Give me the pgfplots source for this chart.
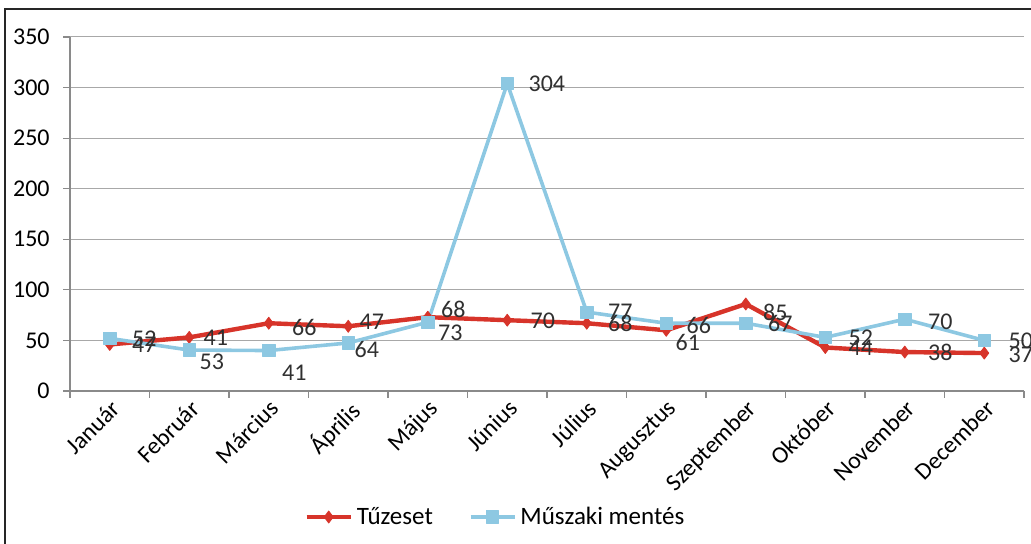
\documentclass[border=0pt]{standalone}
\usepackage{pgfplots}
\pgfplotsset{compat=1.18}
\usepackage{pgfplotstable}
\usepackage{fontspec}
\setmainfont{Carlito}
\definecolor{tred}{HTML}{D7342A}
\definecolor{mblue}{HTML}{8DC8E2}
\definecolor{gridc}{HTML}{A8A8A8}
\definecolor{axc}{HTML}{8A8A8A}
\definecolor{labc}{HTML}{303030}

% x y label dx(pt) dyup(pt)
\pgfplotstableread{
x y lab dx dy
0 46 47 11 0
1 53 41 7 0
2 67 66 11.5 -2
3 64 47 5.5 2
4 73 68 6.5 4
5 70 70 11.5 -0.5
6 67 68 10.5 0
7 60 61 4.5 -6
8 86 85 8.5 -4
9 43 44 11.5 0
10 38.5 38 11.5 0
11 37.5 37 12 -1
}\tuz
\pgfplotstableread{
x y lab dx dy
0 52 52 11 0
1 40.5 53 5 -6
2 40 41 6.5 -11
3 47.5 64 3 -3.5
4 68 73 5 -5.5
5 304 304 10.5 0
6 78 77 10.5 0
7 67 66 10 -1
8 67 67 11 0
9 53 52 11.5 0
10 71 70 11.5 -1.5
11 50 50 12 0
}\musz

\begin{document}
\begin{tikzpicture}
\useasboundingbox (-35pt,-76.5pt) rectangle (480.5pt,195.5pt);
\draw[line width=0.9pt, black!85] (-32.5pt,-80pt) -- (-32.5pt,191pt) -- (485pt,191pt);
\begin{axis}[
  at={(0pt,0pt)}, anchor=south west,
  scale only axis, width=477pt, height=177pt,
  xmin=-0.5, xmax=11.5, ymin=0, ymax=350,
  axis lines*=left,
  axis line style={axc, line width=0.6pt},
  tick align=outside,
  xtick={0,...,11},
  xticklabels={Január,Február,Március,Április,Május,Június,Július,Augusztus,Szeptember,Október,November,December},
  major x tick style={draw=none},
  minor xtick={-0.5,0.5,...,11.5},
  minor tick length=3.5pt,
  minor x tick style={axc, line width=0.6pt},
  ytick={0,50,...,350},
  major tick length=3.5pt,
  y tick style={axc, line width=0.6pt},
  ymajorgrids,
  major grid style={gridc, line width=0.5pt},
  /pgf/number format/assume math mode=true,
  tick label style={font=\fontsize{12}{14}\selectfont, text=black},
  yticklabel style={anchor=east, inner sep=0pt, xshift=-6.5pt},
  xticklabel style={rotate=45, anchor=north east, inner sep=0pt},
  legend style={at={(0.447,-0.356)}, anchor=center, draw=none, fill=none,
    font=\fontsize{12.5}{14}\selectfont, inner sep=0pt,
    /tikz/every even column/.append style={column sep=16pt}},
  legend columns=2,
  legend cell align=left,
  legend image code/.code={\draw[mark repeat=2,mark phase=2] plot coordinates {(0pt,0pt) (11pt,0pt) (22pt,0pt)};},
  every node near coord/.append style={font=\fontsize{12}{14}\selectfont, text=labc},
]
\addplot[tred, line width=2.2pt, line join=round, mark=diamond*, mark size=3pt,
  mark options={solid, fill=tred, line width=0.4pt},
  point meta=explicit symbolic, nodes near coords,
  visualization depends on={\thisrow{dx} \as \ldx},
  visualization depends on={\thisrow{dy} \as \ldy},
  nodes near coords style={anchor=west, inner sep=0pt, xshift=\ldx pt, yshift=\ldy pt}]
  table[x=x, y=y, meta=lab]{\tuz};
\addlegendentry{Tűzeset}
\addplot[mblue, line width=1.8pt, line join=round, mark=square*, mark size=3.1pt,
  mark options={solid, fill=mblue, line width=0.4pt},
  point meta=explicit symbolic, nodes near coords,
  visualization depends on={\thisrow{dx} \as \ldx},
  visualization depends on={\thisrow{dy} \as \ldy},
  nodes near coords style={anchor=west, inner sep=0pt, xshift=\ldx pt, yshift=\ldy pt}]
  table[x=x, y=y, meta=lab]{\musz};
\addlegendentry{Műszaki mentés}
\end{axis}
\end{tikzpicture}
\end{document}
